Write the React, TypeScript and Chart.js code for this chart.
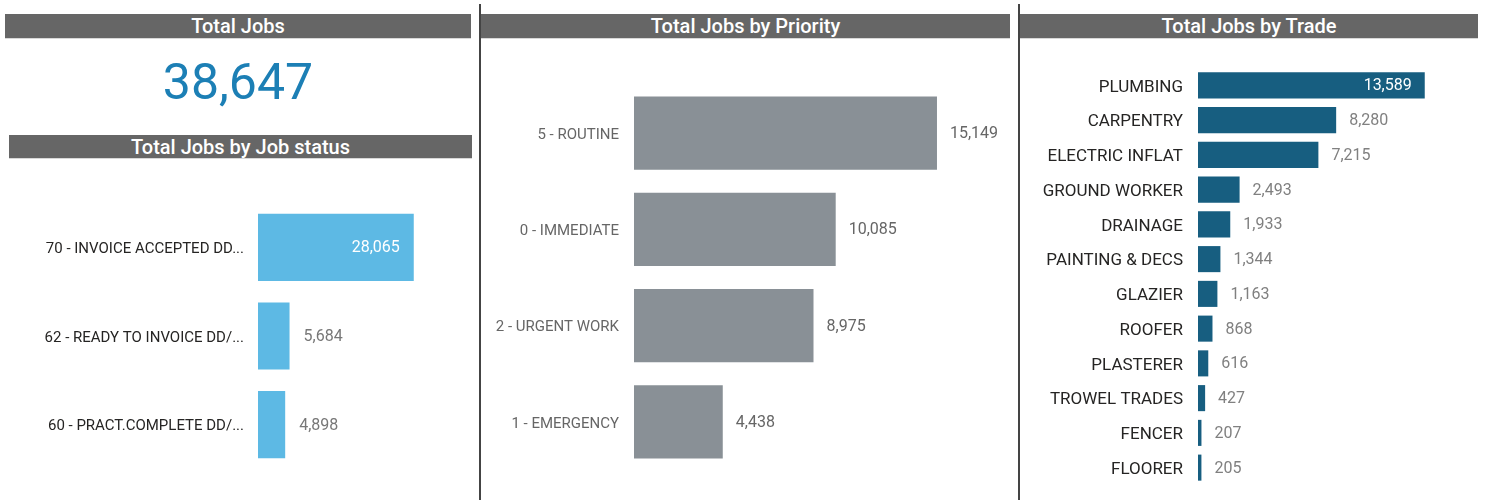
import React, { useEffect, useRef } from "react";
import { Chart, registerables } from "chart.js";

Chart.register(...registerables);

const totalJobs = 38647;

const statusLabels = [
  "70 - INVOICE ACCEPTED DD...",
  "62 - READY TO INVOICE DD/...",
  "60 - PRACT.COMPLETE DD/...",
];
const statusValues = [28065, 5684, 4898];

const priorityLabels = ["5 - ROUTINE", "0 - IMMEDIATE", "2 - URGENT WORK", "1 - EMERGENCY"];
const priorityValues = [15149, 10085, 8975, 4438];

const tradeLabels = [
  "PLUMBING",
  "CARPENTRY",
  "ELECTRIC INFLAT",
  "GROUND WORKER",
  "DRAINAGE",
  "PAINTING & DECS",
  "GLAZIER",
  "ROOFER",
  "PLASTERER",
  "TROWEL TRADES",
  "FENCER",
  "FLOORER",
];
const tradeValues = [13589, 8280, 7215, 2493, 1933, 1344, 1163, 868, 616, 427, 207, 205];

const FONT = "Roboto, 'Noto Sans', sans-serif";

const valueLabelPlugin = {
  id: "valueLabels",
  afterDatasetsDraw(chart: any, _args: any, opts: any) {
    const ctx = chart.ctx;
    const meta = chart.getDatasetMeta(0);
    const data = chart.data.datasets[0].data as number[];
    ctx.save();
    ctx.font = opts.font;
    ctx.textBaseline = "middle";
    meta.data.forEach((bar: any, i: number) => {
      const v = data[i];
      const text = v.toLocaleString("en-US");
      const { x, y } = bar.getProps(["x", "y"], true);
      if (i === opts.insideIndex) {
        ctx.fillStyle = opts.insideColor;
        ctx.textAlign = "right";
        ctx.fillText(text, x - opts.pad, y + 1);
      } else {
        ctx.fillStyle = opts.color;
        ctx.textAlign = "left";
        ctx.fillText(text, x + opts.pad, y + 1);
      }
    });
    ctx.restore();
  },
};

type BarProps = {
  labels: string[];
  values: number[];
  color: string;
  left: number;
  top: number;
  width: number;
  height: number;
  axisWidth: number;
  xMax: number;
  barPct: number;
  labelSize: number;
  labelColor: string;
  labelPad: number;
  valueSize: number;
  valueColor: string;
  valuePad: number;
  insideIndex: number;
};

function HBar(p: BarProps) {
  const ref = useRef<HTMLCanvasElement | null>(null);
  useEffect(() => {
    if (!ref.current) return;
    const chart = new Chart(ref.current, {
      type: "bar",
      data: {
        labels: p.labels,
        datasets: [
          {
            data: p.values,
            backgroundColor: p.color,
            borderWidth: 0,
            categoryPercentage: 1,
            barPercentage: p.barPct,
          },
        ],
      },
      plugins: [valueLabelPlugin as any],
      options: {
        indexAxis: "y",
        responsive: false,
        animation: false,
        events: [],
        layout: { padding: 0, autoPadding: false },
        scales: {
          x: { display: false, min: 0, max: p.xMax },
          y: {
            grid: { display: false, drawTicks: false },
            border: { display: false },
            ticks: {
              padding: p.labelPad,
              labelOffset: 2,
              color: p.labelColor,
              font: { family: FONT, size: p.labelSize },
            },
            afterFit: (scale: any) => {
              scale.width = p.axisWidth;
              scale.paddingTop = 0;
              scale.paddingBottom = 0;
            },
          },
        },
        plugins: {
          legend: { display: false },
          tooltip: { enabled: false },
          valueLabels: {
            font: `${p.valueSize}px ${FONT}`,
            color: p.valueColor,
            insideColor: "#ffffff",
            pad: p.valuePad,
            insideIndex: p.insideIndex,
          },
        } as any,
      },
    });
    return () => chart.destroy();
  }, []);
  return (
    <canvas
      ref={ref}
      width={p.width}
      height={p.height}
      style={{ position: "absolute", left: p.left, top: p.top, width: p.width, height: p.height }}
    />
  );
}

function Header(props: { text: string; left: number; top: number; width: number; height: number }) {
  return (
    <div
      style={{
        position: "absolute",
        left: props.left,
        top: props.top,
        width: props.width,
        height: props.height,
        background: "#666666",
        color: "#ffffff",
        fontFamily: FONT,
        fontWeight: 500,
        fontSize: 20,
        lineHeight: `${props.height + 1}px`,
        textAlign: "center",
        borderBottom: "1px solid #d8d8d8",
        overflow: "hidden",
      }}
    >
      {props.text}
    </div>
  );
}

export default function App() {
  return (
    <div
      style={{
        position: "absolute",
        left: 0,
        top: 0,
        width: 1485,
        height: 500,
        background: "#ffffff",
        overflow: "hidden",
      }}
    >
      <Header text="Total Jobs" left={5} top={14} width={466} height={24} />
      <div
        style={{
          position: "absolute",
          left: 5,
          width: 466,
          top: 57,
          textAlign: "center",
          fontFamily: FONT,
          fontSize: 50,
          lineHeight: "50px",
          color: "#1c7fb5",
        }}
      >
        {totalJobs.toLocaleString("en-US")}
      </div>
      <Header text="Total Jobs by Job status" left={9} top={135} width={463} height={23} />
      <HBar
        labels={statusLabels}
        values={statusValues}
        color="#5db9e4"
        left={0}
        top={203}
        width={480}
        height={266}
        axisWidth={258}
        xMax={40000}
        barPct={0.757}
        labelSize={15}
        labelColor="#252423"
        labelPad={14}
        valueSize={16}
        valueColor="#777777"
        valuePad={14}
        insideIndex={0}
      />

      <div style={{ position: "absolute", left: 479, top: 4, width: 2, height: 496, background: "#444444" }} />

      <Header text="Total Jobs by Priority" left={481} top={14} width={529} height={24} />
      <HBar
        labels={priorityLabels}
        values={priorityValues}
        color="#899096"
        left={481}
        top={85}
        width={534}
        height={385}
        axisWidth={153}
        xMax={19050}
        barPct={0.76}
        labelSize={15}
        labelColor="#666666"
        labelPad={15}
        valueSize={16}
        valueColor="#666666"
        valuePad={13}
        insideIndex={-1}
      />

      <div style={{ position: "absolute", left: 1018, top: 4, width: 2, height: 496, background: "#444444" }} />

      <Header text="Total Jobs by Trade" left={1020} top={14} width={458} height={24} />
      <HBar
        labels={tradeLabels}
        values={tradeValues}
        color="#175e80"
        left={1021}
        top={68}
        width={464}
        height={417}
        axisWidth={177}
        xMax={17200}
        barPct={0.75}
        labelSize={17}
        labelColor="#252423"
        labelPad={15}
        valueSize={16}
        valueColor="#808080"
        valuePad={13}
        insideIndex={0}
      />
    </div>
  );
}
